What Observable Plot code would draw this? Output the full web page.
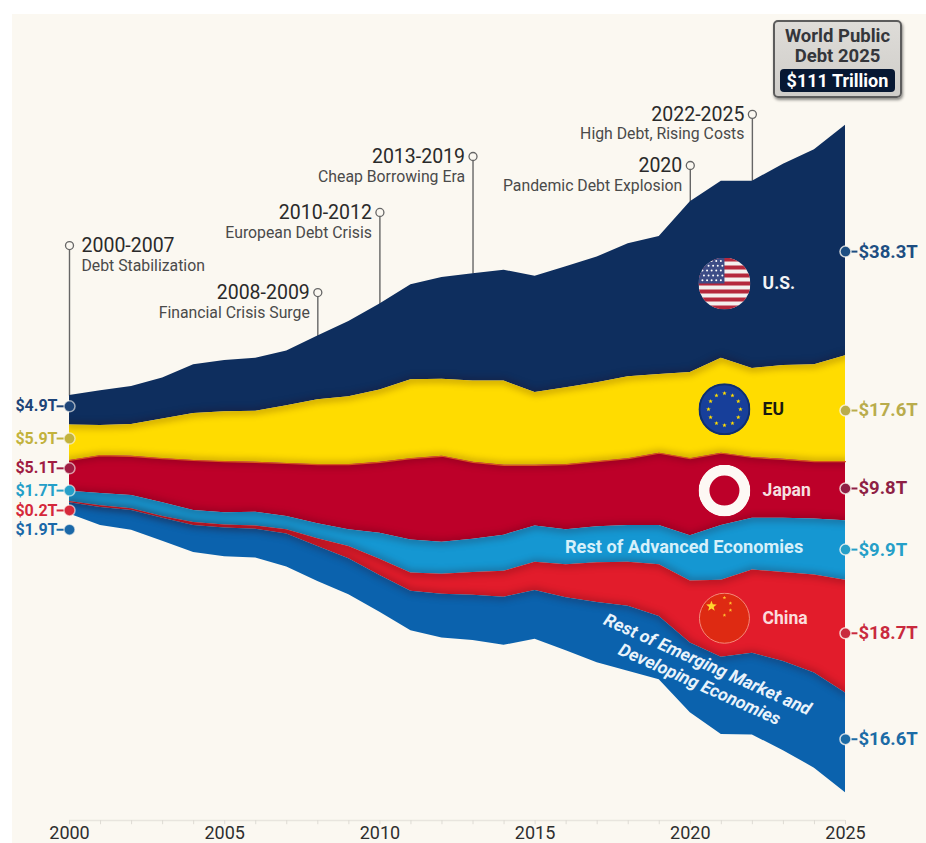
<!DOCTYPE html>
<html>
<head>
<meta charset="utf-8">
<script src="https://cdn.jsdelivr.net/npm/d3@7"></script>
<script src="https://cdn.jsdelivr.net/npm/@observablehq/plot@0.6"></script>
<style>
  html, body { margin: 0; padding: 0; background: #fff; }
  #page { position: relative; width: 926px; height: 843px; overflow: hidden; font-family: Roboto, sans-serif; }
  #paper { position: absolute; left: 12px; top: 14px; right: 0; bottom: 0; background: #fbf8f1; }
  #chart { position: absolute; left: 0; top: 0; }
  #chart svg { display: block; }
  #totalBox {
    position: absolute; left: 773px; top: 20px; width: 129px; height: 78px; box-sizing: border-box;
    background: linear-gradient(#dedcd8, #cfcdc9); border: 2px solid #5c5c5c; border-radius: 5px;
    box-shadow: 1px 2px 3px rgba(0,0,0,.45); text-align: center; color: #34363b;
    font-weight: 700; font-size: 18.5px; line-height: 20px; padding-top: 4px;
  }
  #totalBox div { margin: 3px 5px 0; background: #071833; color: #fff; border-radius: 4px; line-height: 23px; font-size: 18px; }
</style>
</head>
<body>
<div id="page">
  <div id="paper"></div>
  <div id="chart"></div>
  <div id="totalBox">World Public<br>Debt 2025<div>$111 Trillion</div></div>
</div>
<script>
// Public debt in trillions of US dollars, by year and economy group.
const years = d3.range(2000, 2026);
const usDebt = [4.9,5.8,6.3,6.8,8.1,8.5,8.8,9.1,10.6,12.5,14.3,15.8,16.9,17.8,18.4,19.3,20.1,20.9,22.1,22.9,28.4,29.4,31.1,33.4,35.7,38.3];
const euDebt = [5.9,5.0,5.3,6.6,7.8,8.3,8.5,9.6,10.8,11.3,12.0,13.1,12.8,13.5,14.0,12.1,12.8,13.1,13.6,13.1,14.3,15.8,14.8,15.6,16.1,17.6];
const japanDebt = [5.1,6.3,6.5,7.3,8.3,8.5,8.3,8.8,9.8,10.8,11.8,13.5,14.3,12.8,11.6,10.1,10.8,10.8,11.1,12.0,12.8,12.0,10.1,9.8,9.5,9.8];
const advancedDebt = [1.7,2.0,2.2,2.3,2.0,2.0,2.3,2.2,2.5,2.8,4.3,5.5,5.3,5.5,6.0,6.0,5.8,6.0,6.1,6.5,7.5,9.1,8.6,9.0,9.3,9.9];
const chinaDebt = [0.2,0.3,0.3,0.3,0.5,0.5,0.5,0.7,1.3,2.0,2.7,3.0,3.3,3.8,4.3,4.7,5.5,6.6,7.3,8.6,10.3,12.8,13.8,14.8,16.3,18.7];
const emergingDebt = [1.9,3.0,3.3,3.8,4.5,4.8,4.8,5.5,5.8,6.0,6.1,6.6,7.3,7.5,8.0,8.1,8.8,10.0,10.8,10.5,11.6,12.8,13.6,14.8,15.8,16.6];
// Height of the EU / Japan seam that the stream is stacked around.
const seam = [0,0.8,0.7,0.3,0,-0.2,-0.3,-0.5,-0.7,-0.7,-0.3,0.3,0.7,-0.3,-0.8,-0.8,-0.7,-0.2,0.3,1.2,0.3,1.2,0.5,0.2,-0.2,-0.2];

const groups = ["U.S.", "EU", "Japan", "Rest of Advanced Economies", "China", "Rest of Emerging Market and Developing Economies"];
const groupColors = ["#0e2e5e", "#ffdc00", "#bd0029", "#1597d2", "#e21c2b", "#0b62ad"];
const seriesByGroup = [usDebt, euDebt, japanDebt, advancedDebt, chinaDebt, emergingDebt];

const startLabels = ["$4.9T", "$5.9T", "$5.1T", "$1.7T", "$0.2T", "$1.9T"];
const startLevels = [9.0, 3.65, -1.3, -5.0, -8.3, -11.5];
const startColors = ["#1d4478", "#c2b23c", "#a01c42", "#259fc8", "#d5283a", "#1a68a8"];
const endLabels = ["$38.3T", "$17.6T", "$9.8T", "$9.9T", "$18.7T", "$16.6T"];
const endLevels = [34.7, 8.3, -4.65, -14.8, -28.7, -46.3];
const endColors = ["#1d4e82", "#b9ac4c", "#8e1f45", "#259fc8", "#c92a3e", "#1c6ba6"];

const eraTitles = ["2000-2007", "2008-2009", "2010-2012", "2013-2019", "2020", "2022-2025"];
const eraNotes = ["Debt Stabilization", "Financial Crisis Surge", "European Debt Crisis", "Cheap Borrowing Era", "Pandemic Debt Explosion", "High Debt, Rising Costs"];
const eraYears = [2000, 2008, 2010, 2013, 2020, 2022];
const eraLevels = [35.7, 27.9, 41.2, 50.5, 49.0, 57.5];

const axisYears = d3.range(2000, 2026, 5);

// Stack the bands downward from the top of the stream, hanging them on the seam.
const bands = [];
const boundaries = [];
years.forEach((year, i) => {
  const above = usDebt[i] + euDebt[i];
  let top = seam[i] + above;
  groups.forEach((group, g) => {
    const bottom = top - seriesByGroup[g][i];
    bands.push({year, group, top, bottom});
    if (g < groups.length - 1) boundaries.push({year, key: g, level: bottom});
    top = bottom;
  });
});
const streamTop = i => seam[i] + usDebt[i] + euDebt[i];

// Flag badges, inlined as small SVG documents.
const svgUri = body => "data:image/svg+xml," + encodeURIComponent(
  `<svg xmlns="http://www.w3.org/2000/svg" viewBox="0 0 52 52">${body}</svg>`);
const star = (cx, cy, r, fill) => {
  const pts = d3.range(10).map(k => {
    const a = -Math.PI / 2 + k * Math.PI / 5, q = k % 2 ? r * 0.42 : r;
    return `${(cx + q * Math.cos(a)).toFixed(2)},${(cy + q * Math.sin(a)).toFixed(2)}`;
  }).join(" ");
  return `<polygon points="${pts}" fill="${fill}"/>`;
};
const usFlag = (() => {
  let s = `<rect width="52" height="52" fill="#f4f0ee"/>`;
  for (let k = 0; k < 7; k++) s += `<rect y="${k * 8}" width="52" height="4" fill="#b5283c"/>`;
  s += `<rect width="26" height="26" fill="#3d4c86"/>`;
  for (let r = 0; r < 5; r++) for (let c = 0; c < 5; c++) s += `<circle cx="${4 + c * 4.6 + (r % 2) * 1.5}" cy="${3.5 + r * 4.8}" r="1" fill="#fff"/>`;
  return svgUri(s);
})();
const euFlag = svgUri(`<rect width="52" height="52" fill="#173f9a"/><circle cx="26" cy="26" r="25" fill="none" stroke="#0f2f6e" stroke-width="2"/>` +
  d3.range(12).map(k => star(26 + 16 * Math.cos(k * Math.PI / 6), 26 + 16 * Math.sin(k * Math.PI / 6), 2.3, "#ffdc00")).join(""));
const japanFlag = svgUri(`<circle cx="26" cy="26" r="20.5" fill="none" stroke="#fdf8f4" stroke-width="11"/>`);
const chinaFlag = svgUri(`<circle cx="26" cy="26" r="25" fill="#de2a12" stroke="#f48a7a" stroke-width="1"/>` +
  star(13, 14, 5.6, "#ffd52e") + star(26, 5.5, 1.9, "#ffc02e") + star(32, 11, 1.9, "#ffc02e") +
  star(32, 18, 1.9, "#ffc02e") + star(26, 23, 1.9, "#ffc02e"));

const badges = [
  {src: usFlag, level: 29.4}, {src: euFlag, level: 8.5},
  {src: japanFlag, level: -5.0}, {src: chinaFlag, level: -26.2}
];
const badgeLabels = [
  {text: "U.S.", level: 29.4, fill: "#f2f3f5"}, {text: "EU", level: 8.5, fill: "#1a1a10"},
  {text: "Japan", level: -5.0, fill: "#f6dfe0"}, {text: "China", level: -26.2, fill: "#fbdcdc"}
];

const rows = a => a.map((text, i) => ({text, i}));

const chart = Plot.plot({
  width: 926,
  height: 843,
  marginLeft: 69,
  marginRight: 81,
  marginTop: 0,
  marginBottom: 23,
  style: {background: "transparent", fontFamily: "Roboto, sans-serif"},
  x: {domain: [2000, 2025], tickFormat: "d"},
  y: {domain: [76.41, -63.62], range: [0, 843], axis: null},
  color: {domain: groups, range: groupColors},
  marks: [
    // year axis
    Plot.ruleY([-59.8], {x1: () => 2000, x2: () => 2025, stroke: "#e8e5de", strokeWidth: 1.5}),
    Plot.ruleX(years, {x: d => d, y1: () => -59.8, y2: () => -60.5, stroke: "#dedbd4"}),
    Plot.axisX(axisYears, {anchor: "bottom", tickSize: 0, tickPadding: 6, fontSize: 18, fill: "#2e2e2e", tickFormat: "d", label: null}),

    // era leader lines
    Plot.link(eraYears.map((year, i) => ({year, from: eraLevels[i], to: streamTop(years.indexOf(year))})), {
      x1: "year", x2: "year", y1: "from", y2: "to", stroke: "#666", strokeWidth: 1.4
    }),

    // debt bands
    Plot.areaY(bands, {x: "year", y1: "top", y2: "bottom", fill: "group", z: "group", curve: "linear"}),
    // soft shading where two bands meet
    Plot.line(boundaries, {x: "year", y: "level", z: "key", stroke: "#2a0008", strokeOpacity: 0.22, strokeWidth: 7, imageFilter: "blur(3px)", clip: "frame"}),
    Plot.line(boundaries.filter(d => d.key === 1), {x: "year", y: "level", stroke: "#d8571a", strokeWidth: 1.2}),

    // flags and band names
    Plot.image(badges, {x: () => 2021.1, y: "level", src: "src", width: 52, height: 52, r: 26}),
    Plot.text(badgeLabels, {x: () => 2022.33, y: "level", text: "text", fill: "fill", textAnchor: "start", fontSize: 17.5, fontWeight: 700}),
    Plot.text(["Rest of Advanced Economies"], {x: () => 2019.8, y: () => -14.45, text: d => d, fill: "#d6f0fa", fontSize: 18.2, fontWeight: 700}),
    Plot.text(["Rest of Emerging Market and"], {x: () => 2020.55, y: () => -33.9, text: d => d, fill: "#e9f3fb", fontSize: 17.7, fontWeight: 700, fontStyle: "italic", rotate: 24}),
    Plot.text(["Developing Economies"], {x: () => 2020.3, y: () => -37.2, text: d => d, fill: "#e9f3fb", fontSize: 17.7, fontWeight: 700, fontStyle: "italic", rotate: 24}),

    // era markers and text
    Plot.dot(eraYears, {x: d => d, y: (d, i) => eraLevels[i], r: 4, fill: "#fbf8f1", stroke: "#666", strokeWidth: 1.3}),
    Plot.text(rows(eraTitles), {x: d => eraYears[d.i], y: d => eraLevels[d.i], text: "text",
      textAnchor: "end", filter: d => d.i > 0, fontSize: 19.5, fill: "#2a2a2a", dx: -8}),
    Plot.text(rows(eraNotes), {x: d => eraYears[d.i], y: d => eraLevels[d.i], text: "text",
      textAnchor: "end", filter: d => d.i > 0, fontSize: 15.8, fill: "#4a4a4a", dx: -8, dy: 20}),
    Plot.text(rows(eraTitles), {x: d => eraYears[d.i], y: d => eraLevels[d.i], text: "text",
      textAnchor: "start", filter: d => d.i === 0, fontSize: 19.5, fill: "#2a2a2a", dx: 12}),
    Plot.text(rows(eraNotes), {x: d => eraYears[d.i], y: d => eraLevels[d.i], text: "text",
      textAnchor: "start", filter: d => d.i === 0, fontSize: 15.8, fill: "#4a4a4a", dx: 12, dy: 20}),

    // value call-outs at both ends of the stream
    Plot.ruleY(startLevels, {y: d => d, x1: () => 1999.6, x2: () => 2000, stroke: (d, i) => startColors[i], strokeWidth: 2}),
    Plot.dot(startLevels, {x: () => 2000, y: d => d, r: 5.5, fill: (d, i) => startColors[i], stroke: "#fbf8f1", strokeOpacity: 0.6}),
    Plot.text(rows(startLabels), {x: () => 2000, y: d => startLevels[d.i], text: "text", fill: d => startColors[d.i], textAnchor: "end", dx: -12, fontSize: 16, fontWeight: 700}),
    Plot.ruleY(endLevels, {y: d => d, x1: () => 2025, x2: () => 2025.4, stroke: (d, i) => endColors[i], strokeWidth: 2}),
    Plot.dot(endLevels, {x: () => 2025, y: d => d, r: 5.5, fill: (d, i) => endColors[i], stroke: "#fbf8f1", strokeOpacity: 0.8}),
    Plot.text(rows(endLabels), {x: () => 2025, y: d => endLevels[d.i], text: "text", fill: d => endColors[d.i], textAnchor: "start", dx: 13, fontSize: 18.5, fontWeight: 700})
  ]
});
document.getElementById("chart").append(chart);
</script>
</body>
</html>
